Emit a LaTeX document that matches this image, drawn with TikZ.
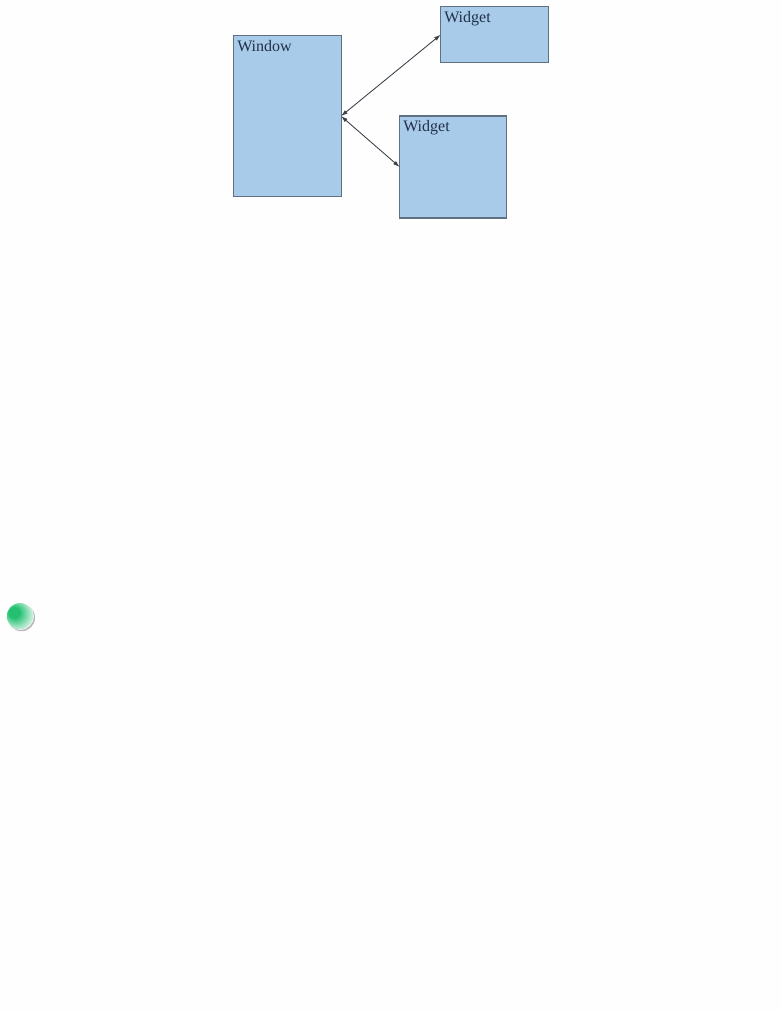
\documentclass[tikz,border=0pt]{standalone}
\usepackage{fontspec}
\setmainfont{Liberation Serif}
\usetikzlibrary{arrows.meta}
\definecolor{boxfill}{HTML}{A8CBEA}
\definecolor{boxline}{HTML}{5F7080}
\definecolor{labelink}{HTML}{22304A}
\definecolor{linkink}{HTML}{3A4148}
\definecolor{ballgreen}{HTML}{22C070}
\definecolor{paper}{HTML}{FEFEFE}
\pgfdeclareradialshading{ballshade}{\pgfpoint{-14bp}{9bp}}{%
  color(0bp)=(ballgreen);
  color(10bp)=(ballgreen);
  color(20bp)=(ballgreen!60!white);
  color(30bp)=(ballgreen!22!white);
  color(40bp)=(white);
  color(50bp)=(white)}
\tikzset{
  x=0.75pt,y=-0.75pt,
  panel/.style={draw=boxline,line width=0.8pt,fill=boxfill,inner sep=0pt,outer sep=0pt},
  paneltext/.style={anchor=north west,inner sep=0pt,text=labelink,font=\fontsize{12pt}{14pt}\selectfont},
  link/.style={draw=linkink,line width=0.65pt,{Latex[length=5pt,width=3.2pt]}-{Latex[length=5pt,width=3.2pt]}}
}
\begin{document}
\begin{tikzpicture}
\useasboundingbox (0,0) rectangle (782,1012);
\fill[paper] (0,0) rectangle (782,1012);
\node[panel,minimum width=80.6pt,minimum height=120.9pt] (win) at (287.3,116.1) {};
\node[panel,minimum width=80.7pt,minimum height=42pt] (wa) at (494.5,34.7) {};
\node[panel,minimum width=80.3pt,minimum height=76.5pt] (wb) at (453.2,167) {};
\node[paneltext] (wintext) at (237,40.5) {Window};
\node[paneltext] (watext) at (444,11.5) {Widget};
\node[paneltext] (wbtext) at (403,120.5) {Widget};
\draw[link] (win.east) -- (wa.west);
\draw[link] (win.east) -- (wb.west);
\fill[black!28] (21.4,617.6) circle[radius=13.6];
\fill[white] (20.3,616.4) circle[radius=13.4];
\shade[shading=ballshade] (20,616.2) circle[radius=13.2];
\end{tikzpicture}
\end{document}
